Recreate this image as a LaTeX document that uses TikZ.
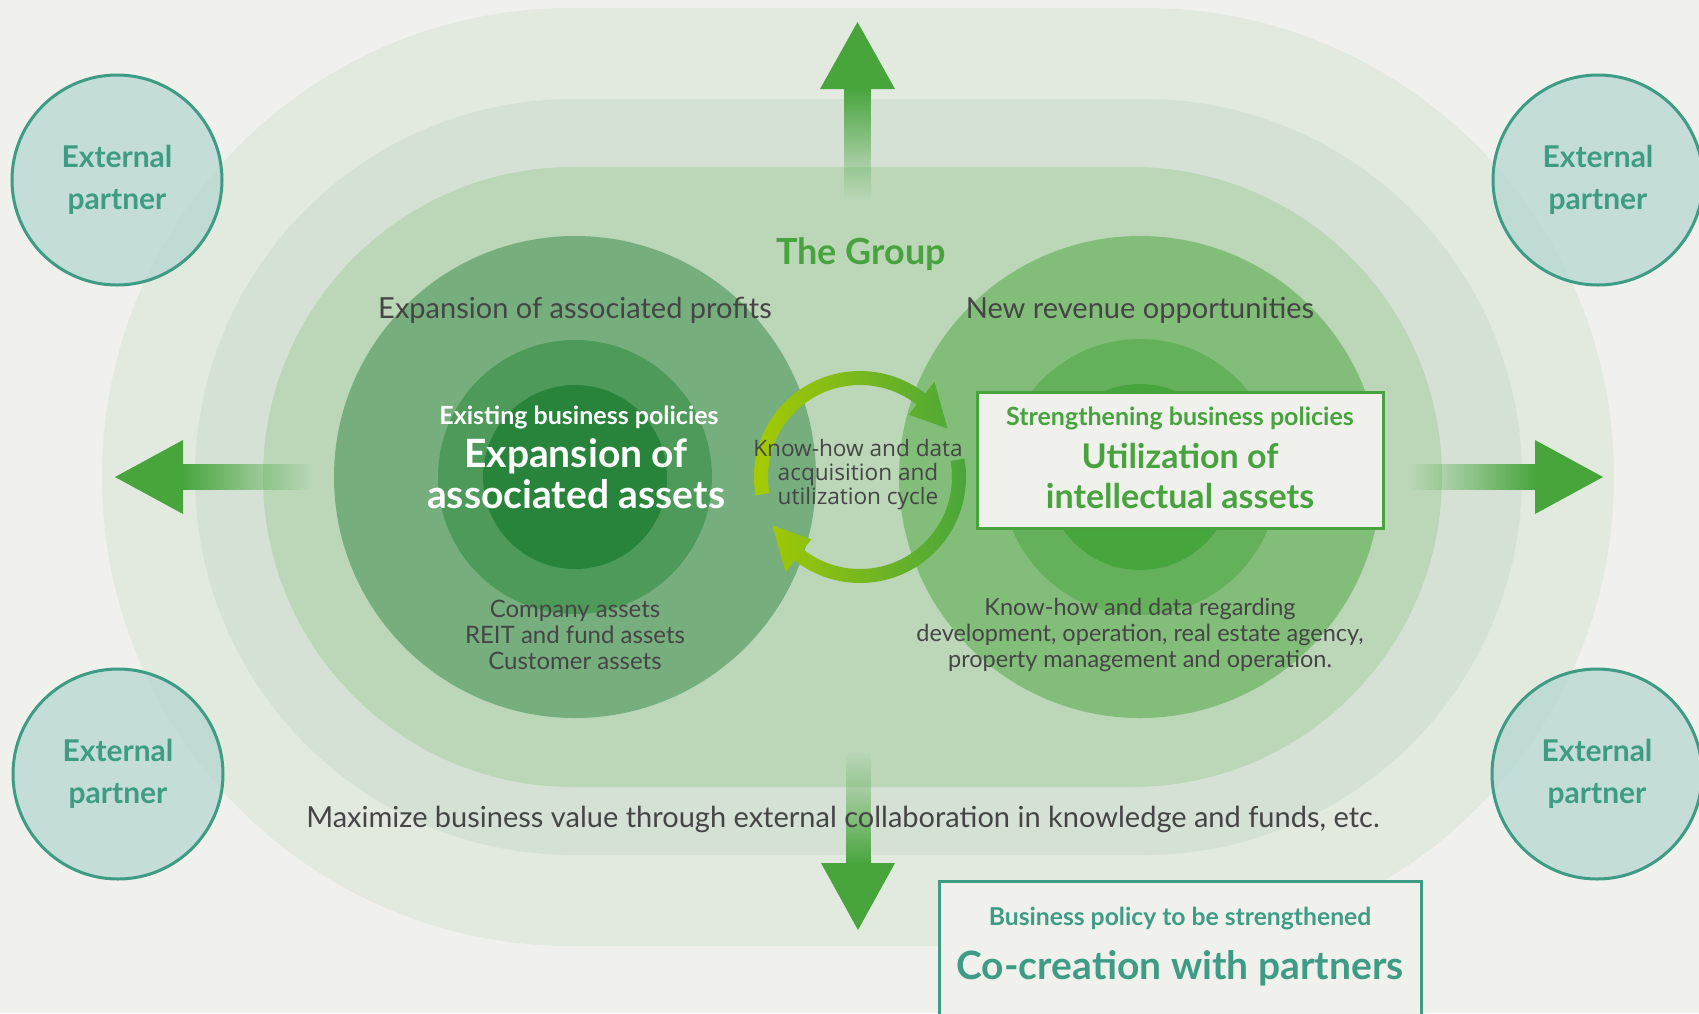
\documentclass[tikz,border=0pt]{standalone}
\usepackage{fontspec}
\setmainfont{Lato}
\newfontfamily\cycfont{Open Sans}
\usetikzlibrary{fadings}
\definecolor{bg}{RGB}{240,241,236}
\definecolor{band1}{RGB}{226,234,224}
\definecolor{band2}{RGB}{214,225,214}
\definecolor{band3}{RGB}{187,215,184}
\definecolor{lc1}{RGB}{118,175,125}
\definecolor{lc2}{RGB}{78,154,91}
\definecolor{lc3}{RGB}{40,131,59}
\definecolor{rc1}{RGB}{130,190,122}
\definecolor{rc2}{RGB}{101,176,90}
\definecolor{rc3}{RGB}{71,165,62}
\definecolor{agreen}{RGB}{71,165,60}
\definecolor{ygreen}{RGB}{168,203,0}
\definecolor{tgreen}{RGB}{72,163,63}
\definecolor{tealc}{RGB}{62,156,133}
\definecolor{tealfill}{RGB}{168,209,203}
\definecolor{txt}{RGB}{69,69,69}
\tikzfading[name=fadebottom, top color=transparent!0, bottom color=transparent!100]
\tikzfading[name=fadetop, top color=transparent!100, bottom color=transparent!0]
\tikzfading[name=faderight, left color=transparent!0, right color=transparent!100]
\tikzfading[name=fadeleft, left color=transparent!100, right color=transparent!0]
\begin{document}
\begin{tikzpicture}[x=1pt,y=-1pt,
  graytext/.style={text=txt, font=\fontsize{29}{32}\selectfont},
  smalltext/.style={text=txt, align=center, font=\fontsize{24}{26}\selectfont},
  whitesub/.style={text=white, font=\bfseries\fontsize{25}{28}\selectfont},
  whitebig/.style={text=white, align=center, font=\bfseries\fontsize{39}{41}\selectfont},
  greensub/.style={text=tgreen, font=\bfseries\fontsize{25}{28}\selectfont},
  greenbig/.style={text=tgreen, align=center, font=\bfseries\fontsize{34}{40}\selectfont},
  partner/.style={circle, draw=tealc, line width=3pt, fill=tealfill, fill opacity=0.6, text opacity=1,
    minimum size=210pt, inner sep=0pt, text=tealc, align=center, font=\bfseries\fontsize{30}{42}\selectfont},
  policybox/.style={draw=tgreen, line width=3pt, fill=bg, inner sep=0pt},
  cobox/.style={draw=tealc, line width=3pt, fill=bg, inner sep=0pt}
]
\useasboundingbox (0,0) rectangle (1699,1013);
\clip (0,0) rectangle (1699,1013);
\fill[bg] (0,0) rectangle (1699,1013);
% stadium bands
\fill[band1] (571,8) -- (1145,8) arc[start angle=-90,end angle=90,radius=469] -- (571,946) arc[start angle=90,end angle=270,radius=469] -- cycle;
\fill[band2] (573,99) -- (1144,99) arc[start angle=-90,end angle=90,radius=378] -- (573,855) arc[start angle=90,end angle=270,radius=378] -- cycle;
\fill[band3] (573,167) -- (1132,167) arc[start angle=-90,end angle=90,radius=310] -- (573,787) arc[start angle=90,end angle=270,radius=310] -- cycle;
% concentric circles
\fill[lc1] (575,477) circle[radius=241];
\fill[lc2] (575,477) circle[radius=137];
\fill[lc3] (575,477) circle[radius=92];
\fill[rc1] (1140,477) circle[radius=241];
\fill[rc2] (1140,477) circle[radius=138];
\fill[rc3] (1140,477) circle[radius=93];
% big arrows
\fill[agreen] (820,89) -- (857.5,22) -- (895,89) -- cycle;
\fill[agreen, path fading=fadebottom] (844,88) rectangle (871,200);
\fill[agreen, path fading=fadetop] (846,752) rectangle (871,864);
\fill[agreen] (821,863) -- (858,930) -- (895,863) -- cycle;
\fill[agreen] (183,440) -- (115,477) -- (183,514) -- cycle;
\fill[agreen, path fading=faderight] (182,464) rectangle (313,490);
\fill[agreen, path fading=fadeleft] (1408,464) rectangle (1536,490);
\fill[agreen] (1535,440) -- (1603,477) -- (1535,514) -- cycle;
% cycle arrows
\begin{scope}[shift={(860,477)}, y=1pt]
  \begin{scope}
    \clip (190:106) arc[start angle=190,end angle=52,radius=106] -- (52:121) -- (29:100) -- (52:79) -- (52:92) arc[start angle=52,end angle=190,radius=92] -- cycle;
    \shade[left color=ygreen, right color=agreen] (-110,-125) rectangle (110,125);
  \end{scope}
  \begin{scope}
    \clip (10:106) arc[start angle=10,end angle=-128,radius=106] -- (-128:121) -- (-151:100) -- (-128:79) -- (-128:92) arc[start angle=-128,end angle=10,radius=92] -- cycle;
    \shade[left color=ygreen, right color=agreen] (-110,-125) rectangle (110,125);
  \end{scope}
\end{scope}
% texts
\node[text=tgreen, font=\bfseries\fontsize{36}{42}\selectfont] (group) at (861,254) {The Group};
\node[graytext] (profits) at (575,310) {Expansion of associated profits};
\node[graytext] (revenue) at (1140,310) {New revenue opportunities};
\node[whitesub] (existing) at (579,417) {Existing business policies};
\node[whitebig] (expansion) at (576,474) {Expansion of\\associated assets};
\node[smalltext] (company) at (575,635) {Company assets\\REIT and fund assets\\Customer assets};
\node[text=txt, align=center, font=\cycfont\fontsize{22.6}{24}\selectfont] (cycle) at (858,475) {Know-how and data\\acquisition and\\utilization cycle};
\node[policybox, minimum width=406pt, minimum height=136pt] (strbox) at (1180,460) {};
\node[greensub] (strength) at (1180,418) {Strengthening business policies};
\node[greenbig] (utilize) at (1180,476) {Utilization of\\intellectual assets};
\node[smalltext, font=\fontsize{23.5}{26}\selectfont] (knowhow) at (1140,635) {Know-how and data regarding\\development, operation, real estate agency,\\property management and operation.};
\node[text=txt, font=\fontsize{29}{32}\selectfont] (maximize) at (843,819) {Maximize business value through external collaboration in knowledge and funds, etc.};
\node[cobox, minimum width=482pt, minimum height=170pt] (cobox) at (1180,966) {};
\node[text=tealc, font=\bfseries\fontsize{24.7}{30}\selectfont] (bpolicy) at (1180,919) {Business policy to be strengthened};
\node[text=tealc, font=\bfseries\fontsize{39}{44}\selectfont] (cocreate) at (1180,968) {Co-creation with partners};
% external partners
\node[partner] (ext1) at (117,180) {External\\partner};
\node[partner] (ext2) at (1598,180) {External\\partner};
\node[partner] (ext3) at (118,774) {External\\partner};
\node[partner] (ext4) at (1597,774) {External\\partner};
\end{tikzpicture}
\end{document}
